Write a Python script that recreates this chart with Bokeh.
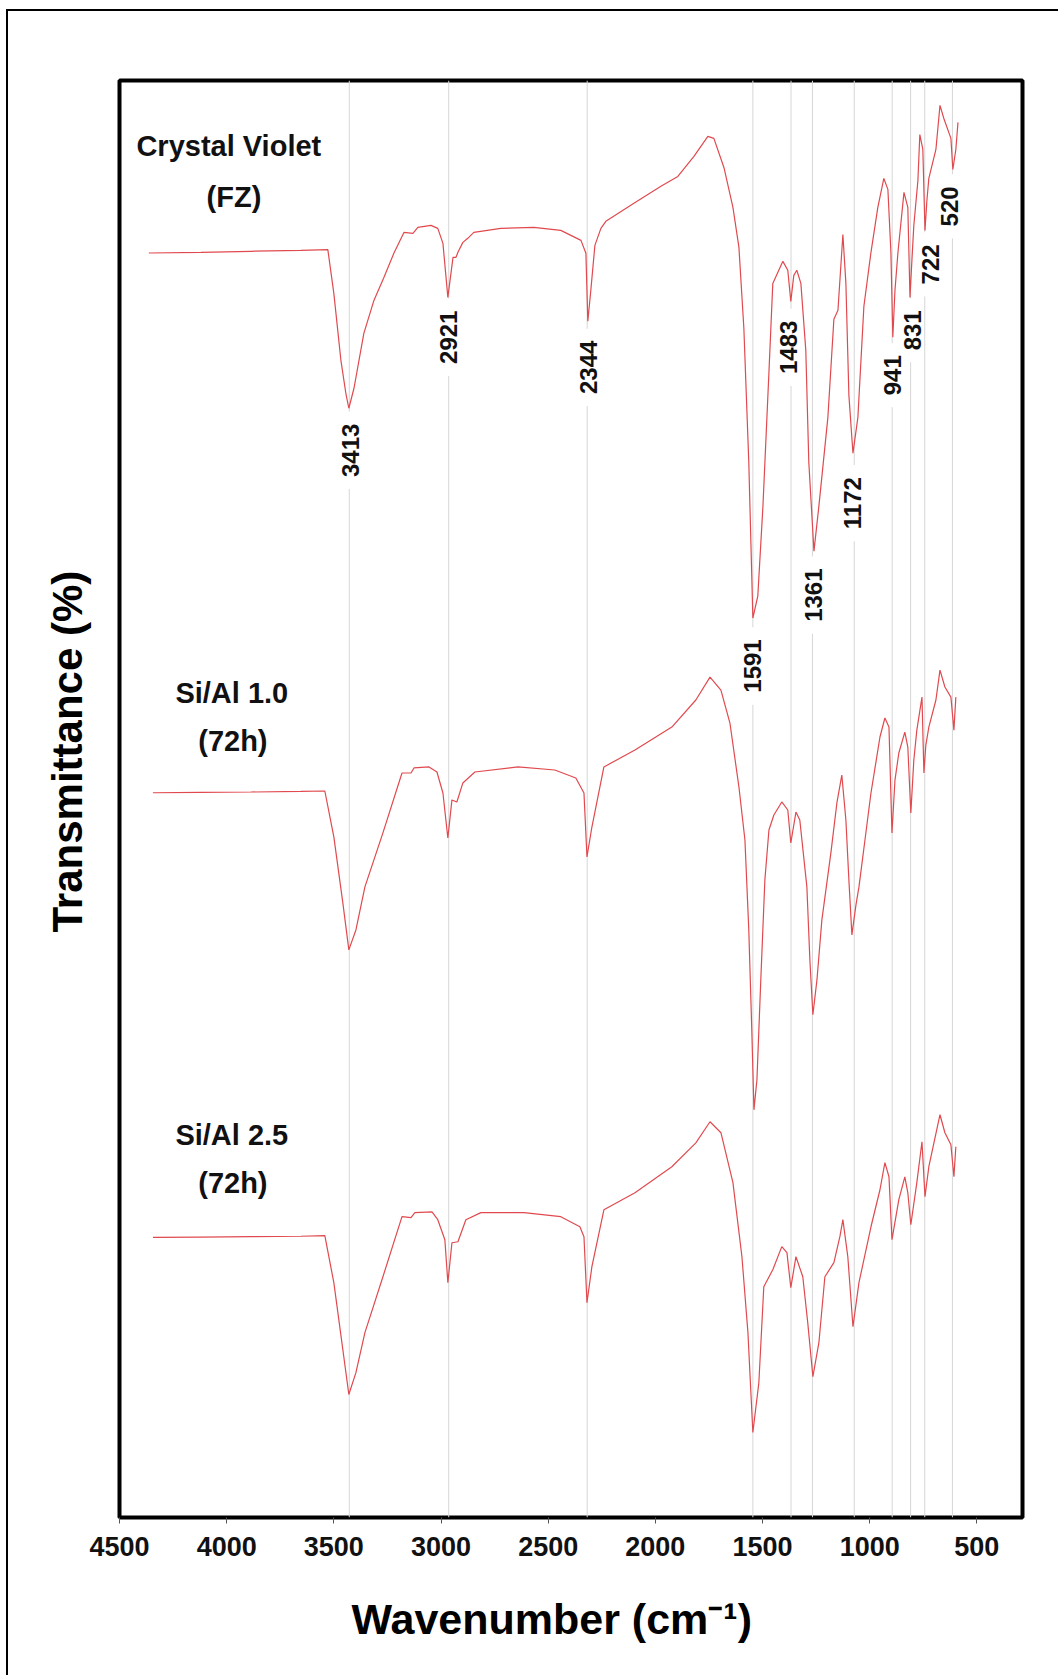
import math
from bokeh.plotting import figure
from bokeh.models import Range1d, FixedTicker, Label, Span, Title
from bokeh.embed import file_html
from bokeh.resources import INLINE

# ---------------- data (wavenumber cm-1, transmittance a.u.) ----------------
cv_wn = [4363, 4120, 3887, 3654, 3528, 3500, 3467, 3444, 3430, 3406, 3360, 3313, 3266, 3220,
         3173, 3131, 3108, 3047, 3015, 2991, 2968, 2944, 2930, 2921, 2898, 2875, 2847, 2721,
         2567, 2441, 2347, 2324, 2315, 2301, 2282, 2254, 2231, 2100, 1974, 1895, 1820, 1755,
         1727, 1680, 1638, 1610, 1587, 1564, 1545, 1522, 1498, 1470, 1452, 1405, 1382, 1368,
         1354, 1340, 1321, 1298, 1284, 1260, 1237, 1195, 1167, 1148, 1125, 1111, 1097, 1078,
         1055, 1027, 994, 962, 934, 915, 901, 892, 882, 868, 840, 822, 812, 803, 794, 775,
         766, 752, 742, 733, 724, 691, 672, 654, 621, 612, 598, 588]
cv_t = [87.88, 87.93, 88.00, 88.07, 88.11, 85.08, 80.43, 78.14, 77.10, 78.49, 82.30, 84.59,
        86.19, 87.86, 89.31, 89.24, 89.66, 89.80, 89.59, 88.55, 84.80, 87.58, 87.58, 87.93,
        88.62, 88.90, 89.31, 89.59, 89.66, 89.45, 88.76, 87.86, 83.14, 85.29, 88.41, 89.59,
        90.08, 91.33, 92.51, 93.20, 94.59, 95.98, 95.84, 93.82, 91.05, 88.27, 82.65, 73.35,
        62.53, 64.05, 70.30, 79.60, 85.77, 87.30, 86.68, 84.52, 86.33, 86.68, 85.77, 81.12,
        73.35, 67.18, 70.30, 76.47, 83.28, 83.90, 89.17, 85.77, 78.00, 73.98, 76.47, 84.18,
        87.93, 91.05, 93.06, 92.30, 87.93, 82.03, 85.29, 87.93, 92.09, 91.05, 84.80, 87.37,
        89.80, 92.92, 96.11, 95.07, 89.45, 91.53, 93.06, 95.07, 98.13, 97.22, 95.84, 93.68,
        95.07, 96.95]

s10_wn = [4344, 4120, 3887, 3654, 3542, 3500, 3458, 3430, 3397, 3355, 3271, 3182, 3140, 3126,
          3056, 3019, 2991, 2968, 2949, 2926, 2898, 2842, 2641, 2469, 2371, 2333, 2319, 2296,
          2240, 2095, 1923, 1811, 1745, 1694, 1652, 1610, 1582, 1564, 1550, 1540, 1526, 1508,
          1489, 1470, 1447, 1410, 1382, 1368, 1344, 1326, 1293, 1279, 1265, 1246, 1223, 1181,
          1153, 1130, 1111, 1097, 1083, 1064, 1050, 1022, 994, 952, 929, 910, 896, 882, 864,
          836, 822, 808, 794, 780, 756, 747, 738, 724, 691, 672, 649, 621, 607, 598]
s10_t = [50.40, 50.42, 50.45, 50.49, 50.52, 47.33, 42.75, 39.49, 40.87, 43.86, 47.61, 51.77,
         51.77, 52.12, 52.19, 51.84, 50.38, 47.26, 49.90, 49.76, 51.08, 51.84, 52.19, 51.98,
         51.42, 50.38, 45.94, 48.02, 52.19, 53.37, 54.96, 56.84, 58.43, 57.53, 55.24, 50.80,
         47.12, 40.87, 33.93, 28.38, 30.47, 37.40, 44.34, 47.81, 48.85, 49.76, 49.20, 46.91,
         49.06, 48.51, 43.86, 38.79, 34.98, 37.40, 41.57, 46.22, 49.69, 51.63, 48.51, 44.34,
         40.53, 42.61, 43.86, 47.12, 50.38, 54.27, 55.59, 54.96, 47.61, 51.28, 53.16, 54.61,
         53.57, 48.99, 52.67, 54.75, 57.04, 51.77, 53.71, 54.96, 56.84, 58.92, 57.74, 57.04,
         54.75, 57.04]

s25_wn = [4344, 4120, 3887, 3654, 3542, 3500, 3458, 3430, 3397, 3355, 3271, 3182, 3140, 3122,
          3042, 3015, 2982, 2968, 2949, 2921, 2884, 2814, 2613, 2441, 2352, 2333, 2319, 2296,
          2240, 2095, 1923, 1811, 1745, 1694, 1638, 1596, 1568, 1545, 1517, 1494, 1452, 1410,
          1386, 1368, 1344, 1312, 1289, 1265, 1237, 1209, 1167, 1139, 1125, 1102, 1078, 1050,
          994, 952, 929, 910, 896, 864, 836, 822, 808, 780, 756, 742, 724, 672, 649, 621, 607, 598]
s25_t = [19.52, 19.54, 19.57, 19.60, 19.64, 16.38, 11.73, 8.61, 10.13, 12.91, 16.79, 20.96,
         20.89, 21.24, 21.30, 20.75, 19.36, 16.38, 19.15, 19.22, 20.75, 21.24, 21.24, 20.96,
         20.26, 19.57, 14.99, 17.49, 21.44, 22.62, 24.43, 26.09, 27.55, 26.79, 23.32, 18.18,
         12.91, 5.97, 9.44, 16.10, 17.28, 18.88, 18.46, 16.03, 18.18, 16.79, 13.60, 9.85,
         12.21, 16.79, 17.77, 19.57, 20.75, 18.18, 13.32, 16.38, 20.26, 22.83, 24.71, 23.73,
         19.36, 22.14, 23.73, 22.62, 20.40, 23.32, 26.16, 22.35, 24.43, 28.04, 26.79, 25.95,
         23.73, 25.82]

# marked band positions (as drawn) and their printed labels
band_lines = [3428, 2964, 2318, 1545, 1367, 1267, 1072, 895, 809, 743, 614]
band_text = ["3413", "2921", "2344", "1591", "1483", "1361", "1172", "941", "831", "722", "520"]
band_text_x = [3420, 2963, 2310, 1545, 1377, 1260, 1078, 892, 798, 718, 626]
band_text_y = [74.18, 82.03, 79.94, 59.20, 81.33, 64.12, 70.51, 79.39, 82.51, 87.09, 91.12]

sample_names = ["Crystal Violet", "(FZ)", "Si/Al 1.0", "(72h)", "Si/Al 2.5", "(72h)"]
sample_x = [3990, 3966, 3976, 3971, 3976, 3971]
sample_y = [95.28, 91.74, 57.32, 53.99, 26.65, 23.32]

x_ticks = [4500, 4000, 3500, 3000, 2500, 2000, 1500, 1000, 500]

# ---------------- figure ----------------
FONT = "Liberation Sans"
RED = "#e04a4f"

p = figure(width=1052, height=1666, output_backend="svg", toolbar_location=None,
           x_range=Range1d(4500, 287), y_range=Range1d(0.07, 99.86),
           min_border_left=111, min_border_right=38, min_border_top=69, min_border_bottom=159,
           background_fill_color="white", border_fill_color="white",
           styles={"border-top": "2px solid black", "border-left": "2px solid black",
                   "margin-left": "6px", "margin-top": "9px"})

p.outline_line_color = "black"
p.outline_line_width = 4
p.xgrid.visible = False
p.ygrid.visible = False
p.yaxis.visible = False

ax = p.xaxis[0]
ax.ticker = FixedTicker(ticks=x_ticks)
ax.axis_line_color = None
ax.major_tick_in = 0
ax.major_tick_out = 6
ax.major_tick_line_color = "#555555"
ax.major_tick_line_width = 1
ax.minor_tick_line_color = None
ax.major_label_text_font = FONT
ax.major_label_text_font_size = "27px"
ax.major_label_text_font_style = "bold"
ax.major_label_text_color = "#111111"
ax.major_label_standoff = 13

for loc in band_lines:
    p.add_layout(Span(location=loc, dimension="height", line_color="#d6d6d6",
                      line_width=1, level="underlay"))

p.line(cv_wn, cv_t, line_color=RED, line_width=1.2)
p.line(s10_wn, s10_t, line_color=RED, line_width=1.2)
p.line(s25_wn, s25_t, line_color=RED, line_width=1.2)

for t, xx, yy in zip(band_text, band_text_x, band_text_y):
    p.add_layout(Label(x=xx, y=yy, text=t, angle=math.pi / 2,
                       text_align="center", text_baseline="middle",
                       text_font=FONT, text_font_size="24px", text_font_style="bold",
                       text_color="#111111", background_fill_color="white",
                       padding=(12, 2)))

for t, xx, yy in zip(sample_names, sample_x, sample_y):
    p.add_layout(Label(x=xx, y=yy, text=t, text_align="center", text_baseline="middle",
                       text_font=FONT, text_font_size="29px", text_font_style="bold",
                       text_color="#111111"))

p.add_layout(Title(text="Wavenumber (cm\u207b\u00b9)", align="left", offset=232,
                   text_font=FONT, text_font_size="43px", text_font_style="bold",
                   text_color="black", standoff=69), "below")
p.add_layout(Title(text="Transmittance (%)", align="left", offset=585,
                   text_font=FONT, text_font_size="42px", text_font_style="bold",
                   text_color="black", standoff=58), "left")

open("out.html", "w").write(file_html(p, INLINE))
